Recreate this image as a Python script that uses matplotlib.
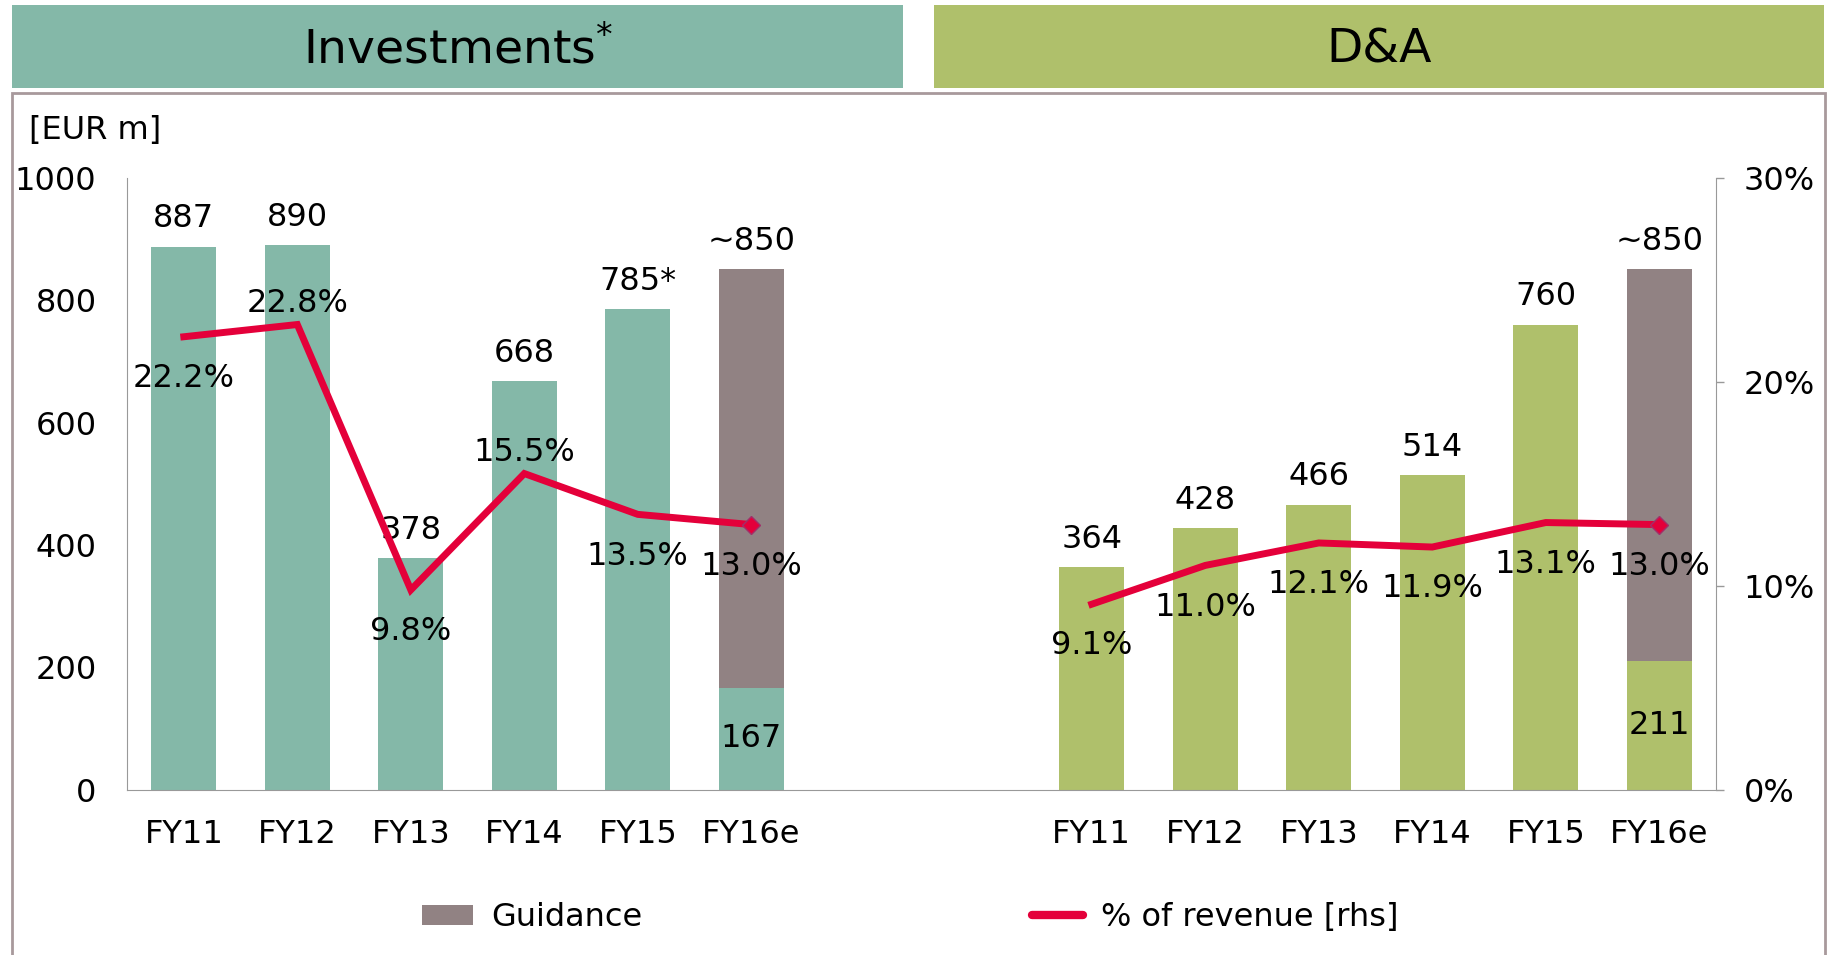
import matplotlib.pyplot as plt
from matplotlib.patches import Rectangle, Patch
from matplotlib.lines import Line2D
import numpy as np

plt.rcParams['font.family'] = ['DejaVu Sans']

# Data
years = ["FY11", "FY12", "FY13", "FY14", "FY15", "FY16e"]
invest = [887, 890, 378, 668, 785, 167]
invest_guid = [0, 0, 0, 0, 0, 683]   # stacked up to ~850
invest_labels = ["887", "890", "378", "668", "785*", "~850"]
invest_pct = [22.2, 22.8, 9.8, 15.5, 13.5, 13.0]
invest_pct_above = [False, True, False, True, False, False]

da = [364, 428, 466, 514, 760, 211]
da_guid = [0, 0, 0, 0, 0, 639]       # stacked up to ~850
da_labels = ["364", "428", "466", "514", "760", "~850"]
da_pct = [9.1, 11.0, 12.1, 11.9, 13.1, 13.0]
da_pct_above = [False, False, False, False, False, False]

TEAL = "#84B8A8"
GREEN = "#AFC06B"
GUID = "#918283"
RED = "#E4003A"
GRAY = "#999999"
FS = 23

fig = plt.figure(figsize=(18.31, 9.55), dpi=100)

# header boxes
fig.patches.append(Rectangle((0.0066, 0.908), 0.4866, 0.087, transform=fig.transFigure,
                             facecolor=TEAL, edgecolor="none"))
fig.patches.append(Rectangle((0.5101, 0.908), 0.4860, 0.087, transform=fig.transFigure,
                             facecolor=GREEN, edgecolor="none"))
fig.text(0.25, 0.948, "Investments$^{*}$", ha="center", va="center", fontsize=34)
fig.text(0.753, 0.948, "D&A", ha="center", va="center", fontsize=34)

# frame
fig.patches.append(Rectangle((0.0066, -0.05), 0.990, 0.9526, transform=fig.transFigure,
                             fill=False, edgecolor="#A8999C", lw=2))

fig.text(0.016, 0.863, "[EUR m]", ha="left", va="center", fontsize=FS)

ax = fig.add_axes([0.0694, 0.1728, 0.8678, 0.6413])
ax2 = ax.twinx()

x_inv = np.arange(6)
x_da = np.arange(6) + 8
w = 0.57

ax.bar(x_inv, invest, w, color=TEAL)
ax.bar(x_inv, invest_guid, w, bottom=invest, color=GUID)
ax.bar(x_da, da, w, color=GREEN)
ax.bar(x_da, da_guid, w, bottom=da, color=GUID)

# value labels
for xs, base, guid, labs in [(x_inv, invest, invest_guid, invest_labels),
                             (x_da, da, da_guid, da_labels)]:
    for xi, b, g, lab in zip(xs, base, guid, labs):
        ax.annotate(lab, (xi, b + g), xytext=(0, 20), textcoords="offset points",
                    ha="center", va="center", fontsize=FS)
        if g > 0:
            ax.text(xi, b / 2, str(b), ha="center", va="center", fontsize=FS)

# percentage lines
for xs, pct, above in [(x_inv, invest_pct, invest_pct_above), (x_da, da_pct, da_pct_above)]:
    ax2.plot(xs, pct, color=RED, lw=5, solid_joinstyle="miter")
    ax2.plot(xs[-1], pct[-1], marker="D", ms=9, color=RED, mec="#A0306A", mew=1)
    for xi, p, up in zip(xs, pct, above):
        ax2.annotate(f"{p:.1f}%", (xi, p), xytext=(0, 15 if up else -30),
                     textcoords="offset points", ha="center", va="center", fontsize=FS)

ax.set_xlim(-0.5, 13.5)
ax.set_ylim(0, 1000)
ax2.set_ylim(0, 30)
ax.set_xticks(list(x_inv) + list(x_da))
ax.set_xticklabels(years + years)
ax.set_yticks(range(0, 1001, 200))
ax2.set_yticks([0, 10, 20, 30])
ax2.set_yticklabels(["0%", "10%", "20%", "30%"])

for a in (ax, ax2):
    for s in a.spines.values():
        s.set_visible(False)
ax.spines["left"].set_visible(True)
ax.spines["left"].set_color(GRAY)
ax.spines["bottom"].set_visible(True)
ax.spines["bottom"].set_color(GRAY)
ax2.spines["right"].set_visible(True)
ax2.spines["right"].set_color(GRAY)

ax.tick_params(axis="y", length=0, pad=22, labelsize=FS)
ax.tick_params(axis="x", length=0, pad=21, labelsize=FS)
ax2.tick_params(axis="y", length=6, width=1, color=GRAY, pad=14, labelsize=FS)

# legends
fig.legend(handles=[Patch(facecolor=GUID, label="Guidance")],
           loc="center left", bbox_to_anchor=(0.2305, 0.039), frameon=False,
           fontsize=FS, handlelength=1.6, handleheight=0.58, handletextpad=0.58,
           borderpad=0, borderaxespad=0)
fig.legend(handles=[Line2D([], [], color=RED, lw=6, solid_capstyle="round",
                           label="% of revenue [rhs]")],
           loc="center left", bbox_to_anchor=(0.5635, 0.039), frameon=False,
           fontsize=FS, handlelength=1.6, handletextpad=0.58,
           borderpad=0, borderaxespad=0)

fig.savefig("out.png", dpi=100)
